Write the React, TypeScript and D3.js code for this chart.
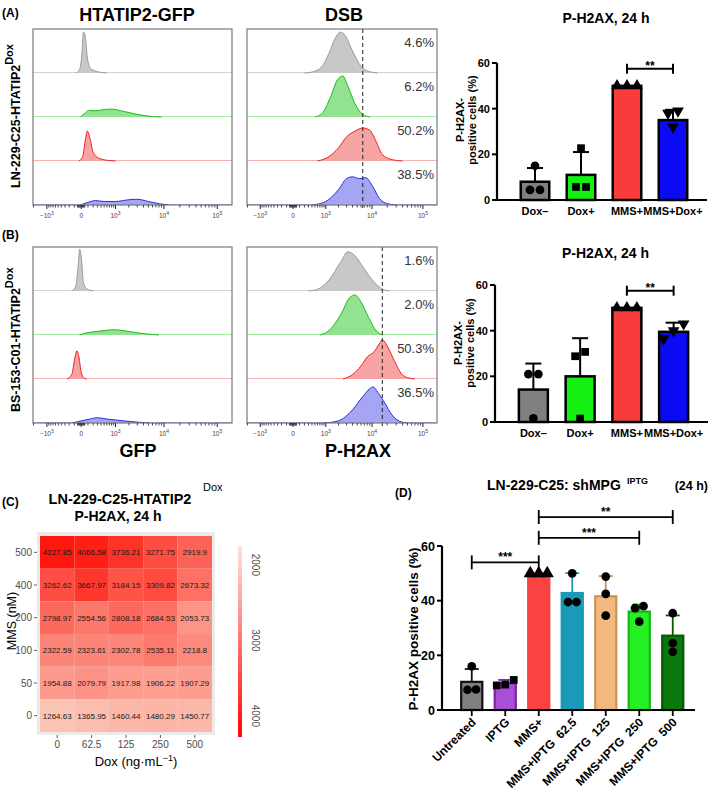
import * as d3 from 'd3';

const FONT = 'Arial, "Liberation Sans", Helvetica, sans-serif';

type Pt = [number, number];

// ---- flow histograms: [intensity, fraction of row height] ----
const gfpA: Pt[][] = [
  [[-80, 0], [-20, 0.08], [10, 0.45], [30, 0.93], [55, 0.85], [90, 0.35], [150, 0.1], [300, 0.03], [600, 0]],
  [[-10, 0], [50, 0.08], [110, 0.15], [250, 0.14], [500, 0.17], [800, 0.18], [1500, 0.13], [3000, 0.06], [6000, 0.01], [9000, 0]],
  [[-30, 0], [20, 0.1], [60, 0.5], [90, 0.68], [130, 0.55], [200, 0.2], [350, 0.06], [700, 0.01], [1000, 0]],
  [[-10, 0], [100, 0.06], [250, 0.1], [500, 0.08], [1000, 0.08], [2000, 0.12], [3000, 0.13], [5000, 0.08], [8000, 0.03], [12000, 0]],
];
const dsbA: Pt[][] = [
  [[200, 0], [400, 0.02], [800, 0.15], [1200, 0.45], [1700, 0.8], [2200, 0.93], [2800, 0.85], [4000, 0.5], [6000, 0.15], [9000, 0.03], [13000, 0]],
  [[500, 0], [800, 0.08], [1300, 0.45], [1900, 0.85], [2500, 0.93], [3200, 0.7], [4500, 0.3], [6500, 0.06], [9000, 0]],
  [[600, 0], [1200, 0.1], [2000, 0.3], [3000, 0.55], [4500, 0.68], [6500, 0.75], [9000, 0.7], [12000, 0.45], [16000, 0.15], [25000, 0.03], [40000, 0]],
  [[400, 0], [1000, 0.08], [2000, 0.35], [3000, 0.6], [4000, 0.64], [5500, 0.6], [7500, 0.62], [10000, 0.45], [14000, 0.15], [20000, 0.03], [30000, 0]],
];
const gfpB: Pt[][] = [
  [[-150, 0], [-80, 0.1], [-40, 0.6], [-20, 0.95], [0, 0.8], [30, 0.2], [80, 0.05], [200, 0]],
  [[-20, 0], [50, 0.04], [200, 0.07], [500, 0.1], [900, 0.12], [1500, 0.1], [3000, 0.05], [6000, 0.01], [8000, 0]],
  [[-250, 0], [-150, 0.1], [-90, 0.5], [-60, 0.64], [-30, 0.5], [0, 0.15], [40, 0.02], [80, 0]],
  [[-150, 0], [-50, 0.03], [100, 0.08], [300, 0.12], [600, 0.09], [1500, 0.05], [3000, 0.02], [5000, 0]],
];
const dsbB: Pt[][] = [
  [[300, 0], [600, 0.04], [1200, 0.25], [2200, 0.65], [3200, 0.89], [4500, 0.8], [7000, 0.5], [11000, 0.2], [17000, 0.03], [22000, 0]],
  [[700, 0], [1200, 0.1], [2200, 0.45], [3500, 0.85], [4500, 0.91], [6000, 0.75], [8500, 0.4], [12000, 0.1], [16000, 0]],
  [[2500, 0], [4000, 0.1], [6000, 0.3], [8000, 0.5], [11000, 0.62], [14000, 0.8], [16000, 0.89], [20000, 0.75], [28000, 0.4], [38000, 0.12], [50000, 0.03], [70000, 0]],
  [[900, 0], [2000, 0.05], [4000, 0.3], [6500, 0.6], [9000, 0.78], [10500, 0.82], [13000, 0.7], [18000, 0.45], [25000, 0.18], [35000, 0.04], [50000, 0]],
];
const pctA = ['4.6%', '6.2%', '50.2%', '38.5%'];
const pctB = ['1.6%', '2.0%', '50.3%', '36.5%'];
const gateA = 6500;
const gateB = 16000;
const flowMajor = [-1000, 0, 1000, 10000, 100000];
const flowMajorBase = ['−10', '0', '10', '10', '10'];
const flowMajorExp = ['3', '', '3', '4', '5'];

// ---- P-H2AX bar charts (A) and (B) ----
const groupsAB = ['Dox–', 'Dox+', 'MMS+', 'MMS+Dox+'];
const meanA = [8, 11, 50, 35];
const sdTopA = [14, 21, 50, 39.5];
const dotsA = [[15, 4.4, 4.4], [22.7, 5.7, 5.7], [50, 50, 50], [32, 39, 38]];
const meanB = [14.2, 20, 50, 39.5];
const sdTopB = [25.6, 36.7, 50, 43.5];
const dotsB = [[1.6, 21, 21], [1.5, 30.7, 28.8], [50, 50, 50], [36.5, 43, 40]];
const yTicks = [0, 20, 40, 60];

// ---- heatmap (C) ----
const doxLevels = ['0', '62.5', '125', '250', '500'];
const mmsLevels = ['500', '400', '200', '100', '50', '0'];
const heat500 = [4227.85, 4066.58, 3736.21, 3271.75, 2919.9];
const heat400 = [3262.62, 3667.97, 3184.15, 3309.82, 2673.32];
const heat200 = [2798.97, 2554.56, 2808.18, 2684.53, 2053.73];
const heat100 = [2322.59, 2323.61, 2302.78, 2535.11, 2218.8];
const heat50 = [1954.88, 2079.79, 1917.98, 1906.22, 1907.29];
const heat0 = [1264.63, 1365.95, 1460.44, 1480.29, 1450.77];
const legendTicks = [2000, 3000, 4000];

// ---- shMPG bars (D) ----
const groupsD = ['Untreated', 'IPTG', 'MMS+', 'MMS+IPTG  62.5', 'MMS+IPTG  125', 'MMS+IPTG  250', 'MMS+IPTG  500'];
const meanD = [10.3, 9.8, 50, 42.8, 41.6, 36, 27.2];
const sdTopD = [15, 11, 50, 50.1, 49, 38.6, 34.6];
const dotsD = [[16, 7.5, 7.4], [11, 9.3, 9], [50, 50, 50], [50, 39.5, 39.5], [48.8, 42.5, 34.5], [38, 37.3, 32.3], [35.4, 24.5, 21.3]];

const ROW_FILL = ['#c8c8c8', '#92e292', '#f5a3a3', '#a5a5f4'];
const ROW_LINE = ['#9b9b9b', '#1dbd1d', '#ef2323', '#2b2bef'];
const ROW_BASE = ['#d2d2d2', '#a3eaa3', '#f8b0b0', '#aaaaf5'];

const AB_FILL = ['#808080', '#14f014', '#f83c3c', '#0a0af5'];
const AB_MARK = ['circle', 'square', 'triangle', 'triangleDown'];
const D_FILL = ['#808080', '#a84fd6', '#f94242', '#1b99b8', '#f1b87f', '#24f024', '#0b780b'];
const D_STROKE = ['#111111', '#7c22ad', '#f94242', '#1b99b8', '#c99458', '#16b516', '#045c04'];
const D_MARK = ['circle', 'square', 'triangle', 'circle', 'circle', 'circle', 'circle'];

function markPath(kind: string, size: number) {
  const t = kind === 'circle' ? d3.symbolCircle : kind === 'square' ? d3.symbolSquare : d3.symbolTriangle;
  return d3.symbol().type(t).size(size)() || '';
}

// spread replicate dots sideways only when they would overlap
function spread(vals: number[], y: (v: number) => number, minGap: number, step: number) {
  const order = vals.map((_, i) => i).sort((a, b) => vals[a] - vals[b]);
  const off = vals.map(() => 0);
  let cl: number[] = [];
  const flush = () => {
    cl.forEach((k, j) => (off[k] = (j - (cl.length - 1) / 2) * step));
    cl = [];
  };
  order.forEach((k) => {
    if (cl.length && Math.abs(y(vals[k]) - y(vals[cl[cl.length - 1]])) >= minGap) flush();
    cl.push(k);
  });
  flush();
  return off;
}

function FlowHist({ id, x0, x1, top, rows, gate, pct }: { id: string; x0: number; x1: number; top: number; rows: Pt[][]; gate?: number; pct?: string[] }) {
  const rowH = 44;
  const bottom = top + rowH * rows.length;
  const x = d3.scaleSymlog().constant(300).domain([-2050, 188000]).range([x0, x1]);
  const minor = [
    ...[10, 20, 30, 40, 50].flatMap((v) => [v, -v]),
    ...d3.range(100, 1000, 100).flatMap((v) => [v, -v]),
    -2000,
    ...d3.range(2000, 10000, 1000),
    ...d3.range(20000, 100000, 10000),
  ];
  return (
    <g>
      <defs>
        <clipPath id={id}>
          <rect x={x0} y={top} width={x1 - x0} height={bottom - top} />
        </clipPath>
      </defs>
      <g clipPath={`url(#${id})`}>
        {rows.map((pts, i) => {
          const base = top + rowH * (i + 1);
          const area = d3.area<Pt>().x((d) => x(d[0])).y0(base).y1((d) => base - d[1] * rowH).curve(d3.curveMonotoneX);
          const line = d3.line<Pt>().x((d) => x(d[0])).y((d) => base - d[1] * rowH).curve(d3.curveMonotoneX);
          return (
            <g key={i}>
              <line x1={x0} x2={x1} y1={base - 0.5} y2={base - 0.5} stroke={ROW_BASE[i]} strokeWidth={1.2} />
              <path d={area(pts) || ''} fill={ROW_FILL[i]} />
              <path d={line(pts) || ''} fill="none" stroke={ROW_LINE[i]} strokeWidth={1} />
            </g>
          );
        })}
      </g>
      {gate !== undefined && (
        <line x1={x(gate)} x2={x(gate)} y1={top} y2={bottom + 4} stroke="#222" strokeWidth={1} strokeDasharray="4,3" />
      )}
      <rect x={x0} y={top} width={x1 - x0} height={bottom - top} fill="none" stroke="#7a7a7a" strokeWidth={1.2} />
      {minor.map((v) => (
        <line key={'m' + v} x1={x(v)} x2={x(v)} y1={bottom} y2={bottom + 2.5} stroke="#222" strokeWidth={0.8} />
      ))}
      {flowMajor.map((v, i) => (
        <g key={'M' + v}>
          <line x1={x(v)} x2={x(v)} y1={bottom} y2={bottom + 4} stroke="#222" strokeWidth={1} />
          <text x={x(v)} y={bottom + 13} fontSize={6.5} fill="#444" textAnchor="middle" fontFamily={FONT}>
            {flowMajorBase[i]}
            {flowMajorExp[i] && (
              <tspan fontSize={5} dy={-3}>
                {flowMajorExp[i]}
              </tspan>
            )}
          </text>
        </g>
      ))}
      {pct &&
        pct.map((p, i) => (
          <text key={p} x={x1 - 3} y={top + rowH * i + 18} fontSize={13} fill="#333" textAnchor="end" fontFamily={FONT}>
            {p}
          </text>
        ))}
    </g>
  );
}

function SmallBars({ axisX, xEnd, yTop, yBot, title, titleY, mean, sdTop, dots, labelY }: any) {
  const y = d3.scaleLinear().domain([0, 60]).range([yBot, yTop]);
  const x = d3.scaleBand<string>().domain(groupsAB).range([axisX + 15, xEnd - 11]).paddingInner(0.38).paddingOuter(0.19);
  const bw = x.bandwidth();
  const cx = (g: string) => (x(g) || 0) + bw / 2;
  const sigY = y(57.5);
  return (
    <g fontFamily={FONT}>
      <text x={(axisX + xEnd) / 2 + 4} y={titleY} fontSize={14} fontWeight="bold" textAnchor="middle">
        P-H2AX, 24 h
      </text>
      <g transform={`translate(${axisX - 33},${labelY}) rotate(-90)`} fontSize={11} fontWeight="bold" textAnchor="middle">
        <text x={0} y={0}>P-H2AX-</text>
        <text x={0} y={12}>positive cells (%)</text>
      </g>
      {groupsAB.map((g, i) => {
        const c = cx(g);
        const off = spread(dots[i], y, 8, 10);
        return (
          <g key={g}>
            <rect x={x(g)} y={y(mean[i])} width={bw} height={yBot - y(mean[i])} fill={AB_FILL[i]} stroke="#000" strokeWidth={2.5} />
            {sdTop[i] > mean[i] && (
              <g stroke="#000" strokeWidth={2}>
                <line x1={c} x2={c} y1={y(mean[i])} y2={y(sdTop[i])} />
                <line x1={c - 8} x2={c + 8} y1={y(sdTop[i])} y2={y(sdTop[i])} />
              </g>
            )}
            {dots[i].map((v: number, j: number) => (
              <path
                key={j}
                d={markPath(AB_MARK[i], 60)}
                transform={`translate(${c + off[j]},${y(v)})${AB_MARK[i] === 'triangleDown' ? ' rotate(180)' : ''}`}
                fill="#000"
              />
            ))}
            <text x={c} y={yBot + 15} fontSize={11} fontWeight="bold" textAnchor="middle">
              {g}
            </text>
          </g>
        );
      })}
      <line x1={axisX} x2={axisX} y1={yBot + 1} y2={yTop} stroke="#000" strokeWidth={2.2} />
      <line x1={axisX - 1} x2={xEnd} y1={yBot} y2={yBot} stroke="#000" strokeWidth={2.2} />
      {yTicks.map((t) => (
        <g key={t}>
          <line x1={axisX - 5} x2={axisX} y1={y(t)} y2={y(t)} stroke="#000" strokeWidth={2} />
          <text x={axisX - 7} y={y(t) + 4} fontSize={11} fontWeight="bold" textAnchor="end">
            {t}
          </text>
        </g>
      ))}
      <g stroke="#000" strokeWidth={2}>
        <line x1={cx('MMS+')} x2={cx('MMS+Dox+')} y1={sigY} y2={sigY} />
        <line x1={cx('MMS+')} x2={cx('MMS+')} y1={sigY - 5} y2={sigY + 5} />
        <line x1={cx('MMS+Dox+')} x2={cx('MMS+Dox+')} y1={sigY - 5} y2={sigY + 5} />
      </g>
      <text x={(cx('MMS+') + cx('MMS+Dox+')) / 2} y={sigY + 1} fontSize={12} fontWeight="bold" textAnchor="middle">
        **
      </text>
    </g>
  );
}

function Heatmap() {
  const rows = [heat500, heat400, heat200, heat100, heat50, heat0];
  const x = d3.scaleBand<string>().domain(doxLevels).range([40, 212]);
  const y = d3.scaleBand<string>().domain(mmsLevels).range([536, 732]);
  const color = d3.scaleLinear<string>().domain([1264.63, 4227.85]).range(['#fbc3b4', '#ff160c']);
  const leg = d3.scaleLinear().domain([1750, 4280]).range([546, 737]);
  return (
    <g fontFamily={FONT}>
      <text x={2} y={506} fontSize={12} fontWeight="bold">(C)</text>
      <text x={120} y={504} fontSize={14.5} fontWeight="bold" textAnchor="middle">LN-229-C25-HTATIP2</text>
      <text x={203} y={491} fontSize={11}>Dox</text>
      <text x={118} y={521} fontSize={14} fontWeight="bold" textAnchor="middle">P-H2AX, 24 h</text>
      <rect x={37} y={532} width={178} height={203} fill="#ebebeb" />
      {rows.map((r, i) =>
        r.map((v, j) => (
          <g key={`${i}-${j}`}>
            <rect x={x(doxLevels[j])} y={y(mmsLevels[i])} width={x.bandwidth()} height={y.bandwidth()} fill={color(v)} />
            <text
              x={(x(doxLevels[j]) || 0) + x.bandwidth() / 2}
              y={(y(mmsLevels[i]) || 0) + y.bandwidth() / 2 + 3}
              fontSize={8}
              fill="#1a1a1a"
              textAnchor="middle"
            >
              {v}
            </text>
          </g>
        ))
      )}
      {mmsLevels.map((m) => {
        const yy = (y(m) || 0) + y.bandwidth() / 2;
        return (
          <g key={m}>
            <line x1={34} x2={37} y1={yy} y2={yy} stroke="#333" strokeWidth={0.8} />
            <text x={32} y={yy + 3.5} fontSize={10} fill="#4d4d4d" textAnchor="end">{m}</text>
          </g>
        );
      })}
      {doxLevels.map((d) => {
        const xx = (x(d) || 0) + x.bandwidth() / 2;
        return (
          <g key={d}>
            <line x1={xx} x2={xx} y1={735} y2={738} stroke="#333" strokeWidth={0.8} />
            <text x={xx} y={748} fontSize={10} fill="#4d4d4d" textAnchor="middle">{d}</text>
          </g>
        );
      })}
      <text transform="translate(16,621) rotate(-90)" fontSize={12.5} textAnchor="middle">MMS (nM)</text>
      <text x={136} y={766} fontSize={13} textAnchor="middle">
        Dox (ng·mL
        <tspan fontSize={9} dy={-5}>−1</tspan>
        <tspan dy={5}>)</tspan>
      </text>
      <defs>
        <linearGradient id="cbar" x1="0" x2="0" y1="0" y2="1">
          <stop offset="0%" stopColor="#fee4dd" />
          <stop offset="100%" stopColor="#ff0606" />
        </linearGradient>
      </defs>
      <rect x={238} y={546} width={4} height={191} fill="url(#cbar)" />
      {legendTicks.map((t) => (
        <text key={t} transform={`translate(252,${leg(t)}) rotate(90)`} fontSize={10} fill="#4d4d4d" textAnchor="middle">
          {t}
        </text>
      ))}
    </g>
  );
}

function PanelD() {
  const yBot = 710;
  const y = d3.scaleLinear().domain([0, 60]).range([yBot, 546]);
  const x = d3.scaleBand<string>().domain(groupsD).range([455, 689.5]).paddingInner(0.31).paddingOuter(0.155);
  const bw = x.bandwidth();
  const cx = (i: number) => (x(groupsD[i]) || 0) + bw / 2;
  const brackets = [
    { a: 0, b: 2, v: 54, s: '***' },
    { a: 2, b: 5, v: 63, s: '***' },
    { a: 2, b: 6, v: 70.6, s: '**' },
  ];
  return (
    <g fontFamily={FONT}>
      <text x={395} y={497} fontSize={12} fontWeight="bold">(D)</text>
      <text x={487} y={490} fontSize={14} fontWeight="bold">LN-229-C25: shMPG</text>
      <text x={627} y={484} fontSize={9} fontWeight="bold">IPTG</text>
      <text x={708} y={490} fontSize={12.5} fontWeight="bold" textAnchor="end">(24 h)</text>
      <text transform="translate(418,629) rotate(-90)" fontSize={13.5} fontWeight="bold" textAnchor="middle">
        P-H2AX positive cells (%)
      </text>
      {groupsD.map((g, i) => {
        const c = cx(i);
        const off = spread(dotsD[i], y, 8, 8.5);
        return (
          <g key={g}>
            <rect x={(x(g) || 0) + 1} y={y(meanD[i])} width={bw - 2} height={yBot - y(meanD[i])} fill={D_FILL[i]} stroke={D_STROKE[i]} strokeWidth={2.2} />
            {sdTopD[i] > meanD[i] && (
              <g stroke={D_STROKE[i]} strokeWidth={1.8}>
                <line x1={c} x2={c} y1={y(meanD[i])} y2={y(sdTopD[i])} />
                <line x1={c - 7} x2={c + 7} y1={y(sdTopD[i])} y2={y(sdTopD[i])} />
              </g>
            )}
            {dotsD[i].map((v, j) => (
              <path key={j} d={markPath(D_MARK[i], D_MARK[i] === 'triangle' ? 75 : 60)} transform={`translate(${c + off[j]},${y(v)})`} fill="#000" />
            ))}
            <line x1={c} x2={c} y1={yBot} y2={yBot + 6} stroke="#000" strokeWidth={1.8} />
            <text
              transform={`translate(${c + 5},${yBot + 13}) rotate(-45)`}
              fontSize={12}
              fontWeight="bold"
              textAnchor="end"
              style={{ whiteSpace: 'pre' }}
            >
              {g}
            </text>
          </g>
        );
      })}
      <line x1={442} x2={442} y1={yBot + 1} y2={546} stroke="#000" strokeWidth={2.2} />
      <line x1={441} x2={695} y1={yBot} y2={yBot} stroke="#000" strokeWidth={2.2} />
      {yTicks.map((t) => (
        <g key={t}>
          <line x1={437} x2={442} y1={y(t)} y2={y(t)} stroke="#000" strokeWidth={2} />
          <text x={435} y={y(t) + 4.5} fontSize={12.5} fontWeight="bold" textAnchor="end">
            {t}
          </text>
        </g>
      ))}
      {brackets.map((b) => {
        const yy = y(b.v);
        return (
          <g key={b.b}>
            <g stroke="#000" strokeWidth={1.8}>
              <line x1={cx(b.a)} x2={cx(b.b)} y1={yy} y2={yy} />
              <line x1={cx(b.a)} x2={cx(b.a)} y1={yy - 7} y2={yy + 7} />
              <line x1={cx(b.b)} x2={cx(b.b)} y1={yy - 7} y2={yy + 7} />
            </g>
            <text x={(cx(b.a) + cx(b.b)) / 2} y={yy - 1} fontSize={12} fontWeight="bold" textAnchor="middle">
              {b.s}
            </text>
          </g>
        );
      })}
    </g>
  );
}

export default function App() {
  return (
    <svg width={709} height={798} style={{ position: 'absolute', left: 0, top: 0, display: 'block' }} fontFamily={FONT}>
      <rect width={709} height={798} fill="#fff" />
      {/* (A) */}
      <text x={2} y={17} fontSize={12} fontWeight="bold">(A)</text>
      <text x={137} y={21} fontSize={18} fontWeight="bold" textAnchor="middle">HTATIP2-GFP</text>
      <text x={344} y={21} fontSize={18} fontWeight="bold" textAnchor="middle">DSB</text>
      <text transform="translate(20,188) rotate(-90)" fontSize={12.5} fontWeight="bold">
        LN-229-C25-HTATIP2
        <tspan fontSize={11} dy={-7}>Dox</tspan>
      </text>
      <FlowHist id="ga" x0={33} x1={232} top={29} rows={gfpA} />
      <FlowHist id="da" x0={247} x1={437} top={29} rows={dsbA} gate={gateA} pct={pctA} />
      <SmallBars axisX={497} xEnd={707} yTop={63} yBot={200} title="" titleY={23} mean={meanA} sdTop={sdTopA} dots={dotsA} labelY={120} />

      {/* (B) */}
      <text x={2} y={239} fontSize={12} fontWeight="bold">(B)</text>
      <text transform="translate(20,412) rotate(-90)" fontSize={12.5} fontWeight="bold">
        BS-153-C01-HTATIP2
        <tspan fontSize={11} dy={-7}>Dox</tspan>
      </text>
      <FlowHist id="gb" x0={33} x1={232} top={247} rows={gfpB} />
      <FlowHist id="db" x0={247} x1={437} top={247} rows={dsbB} gate={gateB} pct={pctB} />
      <text x={138} y={457} fontSize={18} fontWeight="bold" textAnchor="middle">GFP</text>
      <text x={358} y={457} fontSize={18} fontWeight="bold" textAnchor="middle">P-H2AX</text>
      <SmallBars axisX={495} xEnd={708} yTop={285} yBot={422} title="" titleY={258} mean={meanB} sdTop={sdTopB} dots={dotsB} labelY={343} />

      <Heatmap />
      <PanelD />
    </svg>
  );
}
